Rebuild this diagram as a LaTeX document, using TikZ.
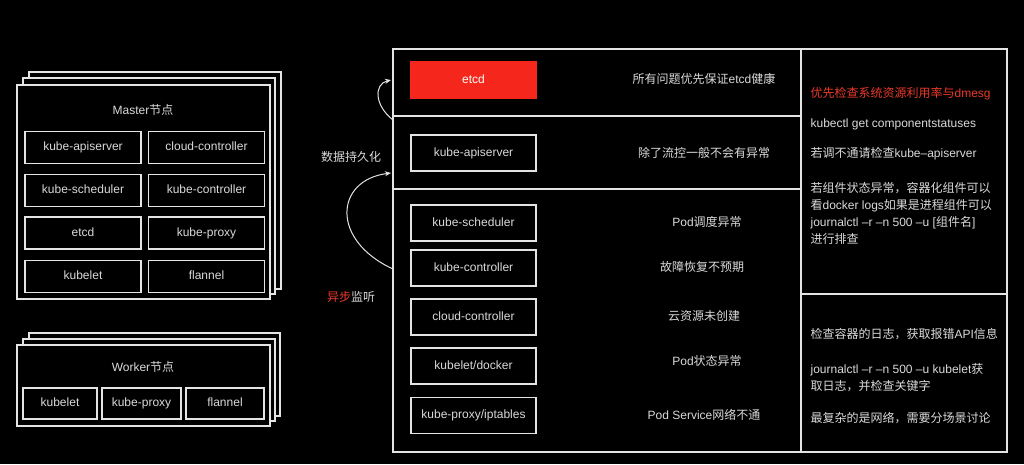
\documentclass[tikz,border=0pt]{standalone}
\usepackage{fontspec}
\setmainfont{Liberation Sans}
\newfontfamily\cjk{Noto Sans CJK SC}
\newcommand{\zh}[1]{{\cjk #1}}
\usetikzlibrary{arrows.meta}
\definecolor{linie}{HTML}{E4E4E4}
\definecolor{schrift}{HTML}{DADADA}
\definecolor{rot}{HTML}{F5261B}
\definecolor{rottext}{HTML}{EC3A2B}

\begin{document}
\begin{tikzpicture}[x=1pt, y=-1pt, line width=1.2pt, font=\fontsize{12}{14}\selectfont,
        box/.style={draw=linie, minimum height=32pt, inner sep=0pt, text=schrift, text height=9pt, text depth=2.5pt},
        stapel/.style={draw=linie, fill=black},
        info/.style={text=schrift, inner sep=0pt, text height=9pt, text depth=2.5pt},
        notiz/.style={text=schrift, inner sep=0pt, anchor=west, align=left, font=\fontsize{12}{17}\selectfont},
        pfeil/.style={draw=linie, line width=1pt, -{Stealth[length=6pt, width=5pt]}}]

        % Hintergrund
        \fill[black] (0,0) rectangle (1024,464);
        \useasboundingbox (0,0) rectangle (1024,464);

        % Master-Knoten (Stapel)
        \draw[stapel] (29,72) rectangle (281,289);
        \draw[stapel] (23,78) rectangle (275,294);
        \draw[stapel] (17,85) rectangle (270,299);
        \node[info] (master) at (143,111) {Master\zh{节点}};
        \foreach \n/\t/\x/\y in {ma/kube-apiserver/83/147.5, mb/cloud-controller/206.5/147.5,
                mc/kube-scheduler/83/190.5, md/kube-controller/206.5/190.5,
                me/etcd/83/233, mf/kube-proxy/206.5/233,
                mg/kubelet/83/276.5, mh/flannel/206.5/276.5} {
                \node[box, minimum width=116pt] (\n) at (\x,\y) {\t};
            }

        % Worker-Knoten (Stapel)
        \draw[stapel] (29,333) rectangle (280,416);
        \draw[stapel] (23,339) rectangle (275,421);
        \draw[stapel] (17,345) rectangle (270,426);
        \node[info] (worker) at (143,368) {Worker\zh{节点}};
        \node[box, minimum width=74pt, minimum height=31pt] (wa) at (60,403.5) {kubelet};
        \node[box, minimum width=79pt, minimum height=31pt] (wb) at (141.5,403.5) {kube-proxy};
        \node[box, minimum width=78pt, minimum height=31pt] (wc) at (225,403.5) {flannel};

        % Tabelle rechts
        \draw[linie] (393,49) rectangle (1007,452);
        \draw[linie] (801,49) -- (801,452);
        \draw[linie] (393,116) -- (801,116);
        \draw[linie] (393,189) -- (801,189);
        \draw[linie] (801,294) -- (1007,294);

        % Komponenten
        \node[box, minimum width=125pt, minimum height=36pt, draw=rot, fill=rot, text=white] (etcd) at (473.5,80) {etcd};
        \node[box, minimum width=125pt, minimum height=36pt] (api) at (473.5,153) {kube-apiserver};
        \node[box, minimum width=125pt, minimum height=36pt] (sched) at (473.5,223) {kube-scheduler};
        \node[box, minimum width=125pt, minimum height=36pt] (ctrl) at (473.5,268) {kube-controller};
        \node[box, minimum width=125pt, minimum height=36pt] (cloud) at (473.5,317) {cloud-controller};
        \node[box, minimum width=125pt, minimum height=36pt] (kubelet) at (473.5,366) {kubelet/docker};
        \node[box, minimum width=125pt, minimum height=36pt] (proxy) at (473.5,415.5) {kube-proxy/iptables};

        % Symptome
        \node[info] (s1) at (704,80) {\zh{所有问题优先保证}etcd\zh{健康}};
        \node[info] (s2) at (704,154) {\zh{除了流控一般不会有异常}};
        \node[info] (s3) at (707,223) {Pod\zh{调度异常}};
        \node[info] (s4) at (702,268) {\zh{故障恢复不预期}};
        \node[info] (s5) at (704,317) {\zh{云资源未创建}};
        \node[info] (s6) at (707,362) {Pod\zh{状态异常}};
        \node[info] (s7) at (704,416) {Pod Service\zh{网络不通}};

        % Hinweise
        \node[notiz, text=rottext] (h1) at (810,94) {\zh{优先检查系统资源利用率与}dmesg};
        \node[notiz] (h2) at (810,124) {kubectl get componentstatuses};
        \node[notiz] (h3) at (810,154) {\zh{若调不通请检查}kube–apiserver};
        \node[notiz] (h4) at (810,213.5) {\zh{若组件状态异常，容器化组件可以}\\
                \zh{看}docker logs\zh{如果是进程组件可以}\\
                journalctl –r –n 500 –u [\zh{组件名}]\\
                \zh{进行排查}};
        \node[notiz] (h5) at (810,334) {\zh{检查容器的日志，获取报错}API\zh{信息}};
        \node[notiz] (h6) at (810,377.5) {journalctl –r –n 500 –u kubelet\zh{获}\\
                \zh{取日志，并检查关键字}};
        \node[notiz] (h7) at (810,418) {\zh{最复杂的是网络，需要分场景讨论}};

        % Pfeile
        \coordinate (etcdab) at (393,120);
        \coordinate (etcdan) at (391,80);
        \coordinate (watchab) at (393,269);
        \coordinate (watchan) at (391,173);
        \draw[pfeil] (etcdab) .. controls (374,105) and (374,84) .. (etcdan);
        \draw[pfeil] (watchab) .. controls (330,240) and (335,180) .. (watchan);
        \node[info] (persist) at (351,158) {\zh{数据持久化}};
        \node[info] (watch) at (351,298) {\zh{\textcolor{rottext}{异步}监听}};

    \end{tikzpicture}
\end{document}
